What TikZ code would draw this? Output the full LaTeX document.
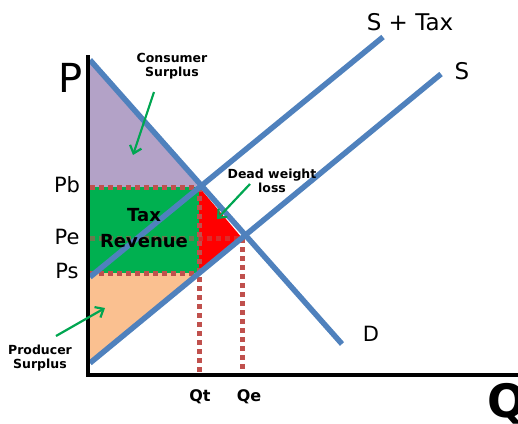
\documentclass[tikz,border=0pt]{standalone}
\usepackage{fontspec}
\setmainfont{DejaVu Sans}
\usetikzlibrary{arrows.meta}
\definecolor{lineblue}{RGB}{79,129,189}
\definecolor{cspurple}{RGB}{179,162,199}
\definecolor{trgreen}{RGB}{0,176,80}
\definecolor{dwred}{RGB}{255,0,0}
\definecolor{pspeach}{RGB}{250,192,144}
\definecolor{dotred}{RGB}{192,80,77}
\definecolor{arrowgreen}{RGB}{0,166,81}
\tikzset{
  curve/.style={draw=lineblue, line width=5.5pt},
  axisline/.style={draw=black, line width=4.5pt},
  dotline/.style={draw=dotred, line width=5pt, dash pattern=on 5pt off 4pt},
  pointer/.style={draw=arrowgreen, line width=2.2pt, -{Straight Barb[length=7pt,width=12pt,line width=2.2pt]}},
  small/.style={font=\fontsize{12.5}{14}\selectfont\bfseries, align=center, inner sep=0pt},
  plabel/.style={font=\fontsize{21}{22}\selectfont, inner sep=0pt},
  qlabel/.style={font=\fontsize{16}{17}\selectfont\bfseries, inner sep=0pt},
  curvelabel/.style={font=\fontsize{23}{25}\selectfont, inner sep=0pt}
}
\begin{document}
\begin{tikzpicture}[x=1pt,y=-1pt]
\useasboundingbox (0,0) rectangle (518,423);
% key points
\coordinate (Dtop) at (90,60);
\coordinate (Dend) at (342,344);
\coordinate (B) at (199,187);
\coordinate (E) at (242,238);
\coordinate (A) at (199,273);
\coordinate (S0) at (90,363);
\coordinate (S1) at (441,74);
\coordinate (T0) at (90,277);
\coordinate (T1) at (383,37);
\coordinate (Pb) at (90,187);
\coordinate (Pe) at (90,238);
\coordinate (Ps) at (90,273);
\coordinate (Qt) at (199,375);
\coordinate (Qe) at (242,375);
\coordinate (O) at (88,375);
\coordinate (Ytop) at (88,55);
\coordinate (Xend) at (518,375);
% areas
\fill[cspurple] (Dtop) -- (B) -- (Pb) -- cycle;
\fill[trgreen] (Pb) rectangle (A);
\fill[dwred] (B) -- (E) -- (A) -- cycle;
\fill[pspeach] (Ps) -- (A) -- (S0) -- cycle;
% dotted guides
\draw[dotline] (Pb) -- (B);
\draw[dotline] (Ps) -- (A);
\draw[dotline, draw opacity=0.55] (Pe) -- (E);
\draw[dotline] (B) -- (Qt);
\draw[dotline] (E) -- (Qe);
% curves
\draw[curve] (Dtop) -- (Dend);
\draw[curve] (S0) -- (S1);
\draw[curve] (T0) -- (T1);
% axes
\draw[axisline] (Ytop) -- (O) -- (Xend);
% labels
\node[font=\fontsize{40}{40}\selectfont, inner sep=0pt] (lP) at (71,78) {P};
\node[font=\fontsize{46}{46}\selectfont\bfseries, inner sep=0pt, anchor=west] (lQ) at (487,404) {Q};
\node[plabel] (lPb) at (67,185) {Pb};
\node[plabel] (lPe) at (67,237) {Pe};
\node[plabel] (lPs) at (67,271) {Ps};
\node[qlabel] (lQt) at (200,397) {Qt};
\node[qlabel] (lQe) at (249,397) {Qe};
\node[curvelabel] (lST) at (410,22) {S + Tax};
\node[curvelabel] (lS) at (462,71) {S};
\node[font=\fontsize{21}{22}\selectfont, inner sep=0pt] (lD) at (371,334) {D};
\node[font=\fontsize{18}{26}\selectfont\bfseries, align=center, inner sep=0pt] (lTR) at (144,228) {Tax\\Revenue};
\node[small] (lCS) at (172,66) {Consumer\\Surplus};
\node[small] (lDW) at (272,181) {Dead weight\\loss};
\node[small] (lPS) at (40,358) {Producer\\Surplus};
% pointers
\coordinate (csT) at (154,92);
\coordinate (csH) at (133,155);
\coordinate (dwT) at (250,184);
\coordinate (dwH) at (217,219);
\coordinate (psT) at (56,336);
\coordinate (psH) at (105,308);
\draw[pointer] (csT) -- (csH);
\draw[pointer] (dwT) -- (dwH);
\draw[pointer] (psT) -- (psH);
\end{tikzpicture}
\end{document}
